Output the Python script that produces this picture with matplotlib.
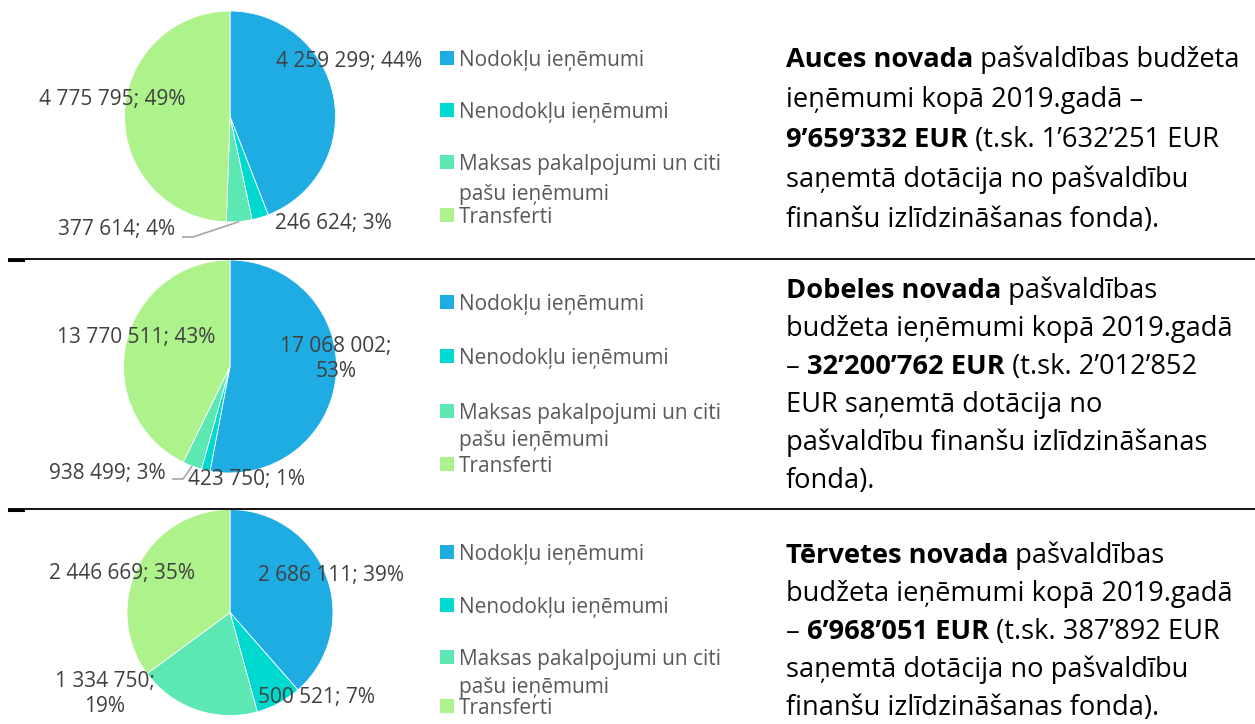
import matplotlib
matplotlib.use("Agg")
import matplotlib.pyplot as plt
import numpy as np
from matplotlib.patches import Rectangle

plt.rcParams["font.family"] = ["Open Sans", "DejaVu Sans"]

W, H = 1255, 724

# Revenue categories and colours
categories = ["Nodokļu ieņēmumi", "Nenodokļu ieņēmumi",
              "Maksas pakalpojumi un citi pašu ieņēmumi", "Transferti"]
legend_lines = [["Nodokļu ieņēmumi"], ["Nenodokļu ieņēmumi"],
                ["Maksas pakalpojumi un citi", "pašu ieņēmumi"], ["Transferti"]]
colors = ["#1FACE3", "#00D9CF", "#5BE8B3", "#ADF28B"]

# Budget revenue 2019, EUR
auce_values = [4259299, 246624, 377614, 4775795]
dobele_values = [17068002, 423750, 938499, 13770511]
tervete_values = [2686111, 500521, 1334750, 2446669]

# Description texts: lists of (text, bold) runs per line
auce_text = [
    [("Auces novada", True), (" pašvaldības budžeta", False)],
    [("ieņēmumi kopā 2019.gadā –", False)],
    [("9’659’332 EUR", True), (" (t.sk. 1’632’251 EUR", False)],
    [("saņemtā dotācija no pašvaldību", False)],
    [("finanšu izlīdzināšanas fonda).", False)],
]
dobele_text = [
    [("Dobeles novada", True), (" pašvaldības", False)],
    [("budžeta ieņēmumi kopā 2019.gadā", False)],
    [("– ", False), ("32’200’762 EUR", True), (" (t.sk. 2’012’852", False)],
    [("EUR saņemtā dotācija no", False)],
    [("pašvaldību finanšu izlīdzināšanas", False)],
    [("fonda).", False)],
]
tervete_text = [
    [("Tērvetes novada", True), (" pašvaldības", False)],
    [("budžeta ieņēmumi kopā 2019.gadā", False)],
    [("– ", False), ("6’968’051 EUR", True), (" (t.sk. 387’892 EUR", False)],
    [("saņemtā dotācija no pašvaldību", False)],
    [("finanšu izlīdzināšanas fonda).", False)],
]

# Panel layout (pixel positions, y measured from the top)
panels = [
    dict(values=auce_values, text=auce_text, center=(230, 116.5), radius=105.5,
         labels=[(349, 62, False), (333, 223, False), (117, 230, False), (112, 99, False)],
         leader=2, leader_start=(182, 237), leader_knee=(193, 237),
         legend_y=[58, 110, 162, 215], legend_gap=30,
         text_base=67, text_step=40),
    dict(values=dobele_values, text=dobele_text, center=(230, 366.5), radius=106.5,
         labels=[(336, 359, True), (247, 480, False), (107, 473, False), (136, 337, False)],
         leader=2, leader_start=(172, 479), leader_knee=(183, 479),
         legend_y=[302, 356, 411, 464], legend_gap=27,
         text_base=298, text_step=38),
    dict(values=tervete_values, text=tervete_text, center=(230, 612.5), radius=103,
         labels=[(331, 576, False), (317, 698, False), (105, 694, True), (122, 573, False)],
         leader=None,
         legend_y=[552, 605, 657, 706], legend_gap=28,
         text_base=563, text_step=38),
]

LABEL_SIZE = 15
LEGEND_SIZE = 15
TEXT_SIZE = 19.6
LABEL_COLOR = "#404040"
LEGEND_COLOR = "#595959"

fig = plt.figure(figsize=(W / 100, H / 100), dpi=100)
ax = fig.add_axes([0, 0, 1, 1])
renderer = fig.canvas.get_renderer()


def fmt_label(v, total, wrap):
    num = f"{v:,}".replace(",", " ")
    pct = int(round(100 * v / total))
    sep = ";\n" if wrap else "; "
    return f"{num}{sep}{pct}%"


def text_width(s, size, bold):
    t1 = ax.text(0, 0, "|" + s + "|", fontsize=size,
                 fontweight="bold" if bold else "normal")
    t2 = ax.text(0, 0, "||", fontsize=size,
                 fontweight="bold" if bold else "normal")
    w = t1.get_window_extent(renderer).width - t2.get_window_extent(renderer).width
    t1.remove()
    t2.remove()
    return w


for p in panels:
    vals = p["values"]
    total = sum(vals)
    cx, cy = p["center"]
    r = p["radius"]
    ax.pie(vals, colors=colors, startangle=90, counterclock=False,
           center=(cx, H - cy), radius=r,
           wedgeprops=dict(edgecolor="white", linewidth=0.6))

    # data labels
    for v, (lx, ly, wrap) in zip(vals, p["labels"]):
        ax.text(lx, H - ly, fmt_label(v, total, wrap), fontsize=LABEL_SIZE,
                color=LABEL_COLOR, ha="center", va="center", linespacing=1.3)

    # leader line to the small slice
    if p["leader"] is not None:
        i = p["leader"]
        frac_mid = (sum(vals[:i]) + vals[i] / 2) / total
        ang = 2 * np.pi * frac_mid
        ex, ey = cx + r * np.sin(ang), cy - r * np.cos(ang)
        sx, sy = p["leader_start"]
        kx, ky = p["leader_knee"]
        ax.plot([sx, kx, ex], [H - sy, H - ky, H - ey], color="#A6A6A6",
                lw=1.2, solid_capstyle="butt")

    # legend
    for col, lines, y in zip(colors, legend_lines, p["legend_y"]):
        ax.add_patch(Rectangle((440, H - y - 7), 14, 14, facecolor=col,
                               edgecolor="none"))
        for k, line in enumerate(lines):
            ax.text(459, H - y - k * p["legend_gap"], line, fontsize=LEGEND_SIZE,
                    color=LEGEND_COLOR, ha="left", va="center_baseline")

    # description text
    for n, runs in enumerate(p["text"]):
        x = 786
        yb = p["text_base"] + n * p["text_step"]
        for s, bold in runs:
            ax.text(x, H - yb, s, fontsize=TEXT_SIZE, color="black",
                    fontweight="bold" if bold else "normal",
                    ha="left", va="baseline")
            x += text_width(s, TEXT_SIZE, bold)

# separating rules
for y in (259, 509):
    ax.plot([9, W], [H - y, H - y], color="black", lw=1.3)
    ax.plot([9, 23], [H - y - 1, H - y - 1], color="black", lw=2.2)

ax.set_xlim(0, W)
ax.set_ylim(0, H)
ax.set_aspect("auto")
ax.axis("off")

fig.savefig("out.png", dpi=100)
